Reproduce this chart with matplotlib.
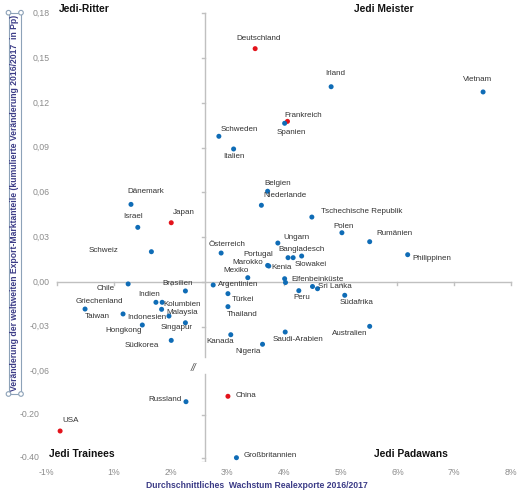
import numpy as np
import matplotlib
matplotlib.use("Agg")
import matplotlib.pyplot as plt
from matplotlib.patches import Rectangle, Circle

plt.rcParams['font.family'] = ['Liberation Sans', 'DejaVu Sans']

# ---------------- data ----------------
countries = ["Deutschland", "Irland", "Vietnam", "Frankreich", "Spanien", "Schweden",
             "Italien", "Belgien", "Niederlande", "Tschechische Republik", "Polen",
             "Rumänien", "Ungarn", "Dänemark", "Israel", "Japan", "Schweiz",
             "Österreich", "Portugal", "Bangladesch", "Slowakei", "Marokko", "Kenia",
             "Philippinen", "Mexiko", "Elfenbeinküste", "Chile", "Argentinien",
             "Sri Lanka", "Brasilien", "Peru", "Türkei", "Südafrika", "Indien",
             "Kolumbien", "Thailand", "Griechenland", "Malaysia", "Taiwan",
             "Indonesien", "Singapur", "Hongkong", "Australien", "Saudi-Arabien",
             "Kanada", "Südkorea", "Nigeria", "China", "Russland", "USA",
             "Großbritannien"]
growth = [3.49, 4.83, 7.51, 4.06, 4.01, 2.85, 3.11, 3.71, 3.60, 4.49, 5.02, 5.51,
          3.89, 1.30, 1.42, 2.01, 1.66, 2.89, 4.07, 4.16, 4.31, 3.71, 3.73, 6.18,
          3.36, 4.01, 1.25, 2.75, 4.59, 2.26, 4.26, 3.01, 5.07, 1.74, 1.85, 3.01,
          0.49, 1.84, 1.16, 1.97, 2.26, 1.50, 5.51, 4.02, 3.06, 2.01, 3.62, 3.01,
          2.27, 0.05, 3.16]
share_change = [0.1563, 0.1308, 0.1273, 0.1076, 0.1063, 0.0976, 0.0891, 0.0608,
                0.0514, 0.0435, 0.0330, 0.0270, 0.0261, 0.0520, 0.0366, 0.0397,
                0.0203, 0.0194, 0.0163, 0.0163, 0.0174, 0.0111, 0.0107, 0.0183,
                0.0029, 0.0022, -0.0013, -0.0020, -0.0045, -0.0060, -0.0058,
                -0.0078, -0.0089, -0.0136, -0.0136, -0.0165, -0.0181, -0.0183,
                -0.0214, -0.0228, -0.0273, -0.0288, -0.0297, -0.0335, -0.0353,
                -0.0391, -0.0417, -0.1144, -0.1395, -0.2758, -0.4000]
highlighted = ["Deutschland", "Frankreich", "Japan", "China", "USA"]

# points without label
extra_growth = [4.01, 4.50]
extra_share = [-0.0002, -0.0029]

x_ticks = [-0.19, 1, 2, 3, 4, 5, 6, 7, 8]
x_ticklabels = ["-1%", "1%", "2%", "3%", "4%", "5%", "6%", "7%", "8%"]
y_ticks_upper = [0.18, 0.15, 0.12, 0.09, 0.06, 0.03, 0.00, -0.03, -0.06]
y_ticklabels_upper = ["0,18", "0,15", "0,12", "0,09", "0,06", "0,03", "0,00", "-0,03", "-0,06"]
y_ticks_lower = [-0.20, -0.40]
y_ticklabels_lower = ["-0.20", "-0.40"]

# ---------------- layout (label offsets in pixels) ----------------
label_offsets = {
    "Deutschland": (3, 9.7), "Irland": (4, 13), "Vietnam": (-6, 12.3),
    "Frankreich": (16, 6.3), "Spanien": (6.5, -9.4), "Schweden": (20.6, 6.3),
    "Italien": (0.6, -8), "Belgien": (10, 7.3), "Niederlande": (23.3, 9.3),
    "Tschechische Republik": (50, 6), "Polen": (1.6, 6.4), "Rumänien": (24.6, 7.7),
    "Ungarn": (19, 5.7), "Dänemark": (14.8, 12.6), "Israel": (-4.7, 10.6),
    "Japan": (12.2, 10), "Schweiz": (-48.3, 1), "Österreich": (6, 9),
    "Portugal": (-30, 3.2), "Bangladesch": (8, 8.5), "Slowakei": (9, -8),
    "Marokko": (-20, 3.3), "Kenia": (12.5, -1), "Philippinen": (24.5, -3.6),
    "Mexiko": (-12, 6.7), "Elfenbeinküste": (32.6, -0.5), "Chile": (-22.8, -4.7),
    "Argentinien": (25.2, 0.7), "Sri Lanka": (17, 2), "Brasilien": (-8, 7.7),
    "Peru": (2.5, -7), "Türkei": (15, -5.6), "Südafrika": (11.6, -7),
    "Indien": (-7, 8.3), "Kolumbien": (19.9, -1.7), "Thailand": (14.3, -8),
    "Griechenland": (14, 8), "Malaysia": (20.8, -2.7), "Taiwan": (-25.3, -3),
    "Indonesien": (-21.7, -1), "Singapur": (-9, -5), "Hongkong": (-18.3, -5.7),
    "Australien": (-20.4, -7.4), "Saudi-Arabien": (13, -7), "Kanada": (-10.3, -7),
    "Südkorea": (-29, -4.7), "Nigeria": (-14, -7.7), "China": (18, 0.6),
    "Russland": (-21, 2), "USA": (10.4, 10), "Großbritannien": (34, 2.4),
}

# ---------------- broken y scale ----------------
LOW_A = -0.08888
SLOPE = 0.144
GAP_LO = -0.10
U_GAP_LO = LOW_A + (GAP_LO + 0.20) * SLOPE


def fwd(v):
    v = np.asarray(v, dtype=float)
    return np.where(v >= -0.06, v,
                    np.where(v >= GAP_LO,
                             -0.06 + (v + 0.06) / (GAP_LO + 0.06) * (U_GAP_LO + 0.06),
                             LOW_A + (v + 0.20) * SLOPE))


def inv(u):
    u = np.asarray(u, dtype=float)
    return np.where(u >= -0.06, u,
                    np.where(u >= U_GAP_LO,
                             -0.06 + (u + 0.06) / (U_GAP_LO + 0.06) * (GAP_LO + 0.06),
                             (u - LOW_A) / SLOPE - 0.20))


W, H = 520, 491
fig = plt.figure(figsize=(W / 100, H / 100), dpi=100)
ax = fig.add_axes([43.1 / W, 1 - 462.0 / H, 470.6 / W, (462.0 - 5.8) / H])
ax.set_yscale('function', functions=(fwd, inv))
ax.set_xlim(-0.25, 8.05)
ax.set_ylim(-0.42, 0.185)
for s in ax.spines.values():
    s.set_visible(False)
ax.set_yticks([])
ax.set_xticks(x_ticks, x_ticklabels)
ax.tick_params(axis='x', length=0, pad=4, labelsize=6.3, colors='#8c8c8c')
ax.patch.set_alpha(0)

axis_col = '#c0c0c0'
# vertical axis (at x = 2.6%) with a break
xv = 2.6
ax.plot([xv, xv], [0.18, -0.0505], color=axis_col, lw=1.0, zorder=1)
ax.plot([xv, xv], [-0.065, -0.42], color=axis_col, lw=1.0, zorder=1)
for yt in y_ticks_upper[:-1] + y_ticks_lower + [-0.42]:
    ax.plot([xv - 0.055, xv], [yt, yt], color=axis_col, lw=1.0, zorder=1)
ax.text(2.40, -0.0574, "//", fontsize=7.5, color='#555555', ha='center', va='center',
        style='italic')
# horizontal axis at y = 0
ax.plot([0, 8], [0, 0], color=axis_col, lw=1.0, zorder=1)
for xt in range(0, 9):
    ax.plot([xt, xt], [0, -0.0017], color=axis_col, lw=1.0, zorder=1)

# y tick labels
for yt, lab in zip(y_ticks_upper, y_ticklabels_upper):
    ax.text(-0.129, yt, lab, fontsize=6.3, color='#8c8c8c', ha='right', va='center')
for yt, lab in zip(y_ticks_lower, y_ticklabels_lower):
    ax.text(-0.305, yt, lab, fontsize=6.3, color='#8c8c8c', ha='right', va='center')

# points
blue = '#0f6cb6'
red = '#e3131b'
colors = [red if c in highlighted else blue for c in countries]
ax.scatter(extra_growth, extra_share, s=13, color=blue, zorder=3, linewidths=0)
ax.scatter(growth, share_change, s=13, c=colors, zorder=3, linewidths=0)
for c, gx, gy in zip(countries, growth, share_change):
    dx, dy = label_offsets[c]
    ax.annotate(c, (gx, gy), xytext=(dx, dy), textcoords='offset pixels',
                ha='center', va='center', fontsize=5.8, color='#333333', zorder=4)

# quadrant names
qkw = dict(fontsize=7.4, fontweight='bold', color='#111111', ha='center', va='center')
ax.text(0.48, 0.1829, "Jedi-Ritter", **qkw)
ax.text(5.753, 0.1829, "Jedi Meister", **qkw)
ax.text(0.436, -0.383, "Jedi Trainees", **qkw)
ax.text(6.238, -0.381, "Jedi Padawans", **qkw)

# axis titles
title_col = '#3b3b86'
fig.text(257 / W, 1 - 485.7 / H, "Durchschnittliches  Wachstum Realexporte 2016/2017",
         fontsize=6.2, fontweight='bold', color=title_col, ha='center', va='center')
box_col = '#8da2b8'
fig.patches.append(Rectangle((8.5 / W, 1 - 394 / H), 12.5 / W, (394 - 12.7) / H,
                             transform=fig.transFigure, fill=False, edgecolor=box_col,
                             lw=0.8))
for (px, py) in [(8.5, 12.7), (21, 12.7), (8.5, 394), (21, 394)]:
    fig.patches.append(Circle((px, H - py), 2.3, transform=None, facecolor='white',
                              edgecolor=box_col, lw=0.8, zorder=5))
fig.text(15 / W, 1 - 203 / H,
         "Veränderung der weltweiten Export-Marktanteile (kumulierte Veränderung 2016/2017  in Pp)",
         rotation=90, fontsize=6.2, fontweight='bold', color=title_col,
         ha='center', va='center')

fig.savefig("out.png", dpi=100)
